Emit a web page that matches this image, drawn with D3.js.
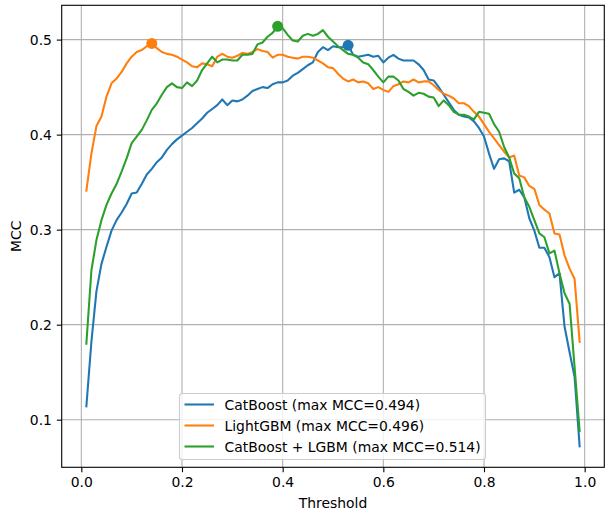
<!DOCTYPE html>
<html>
<head>
<meta charset="utf-8">
<script src="https://cdn.jsdelivr.net/npm/d3@7"></script>
<style>
  body { margin: 0; background: #fff; }
  svg { display: block; font-family: "DejaVu Sans", sans-serif; }
</style>
</head>
<body>
<div id="chart"></div>
<script>
// thresholds 0.01 .. 0.99
const thresholds = d3.range(1, 100).map(i => i / 100);

const catboost = [
  0.114, 0.182, 0.235, 0.264, 0.282, 0.299, 0.310, 0.318, 0.327, 0.338,
  0.339, 0.348, 0.358, 0.364, 0.371, 0.376, 0.384, 0.390, 0.395, 0.399,
  0.403, 0.407, 0.412, 0.417, 0.423, 0.427, 0.431, 0.437, 0.431, 0.436,
  0.435, 0.437, 0.441, 0.446, 0.448, 0.450, 0.449, 0.453, 0.455, 0.455,
  0.457, 0.462, 0.465, 0.469, 0.473, 0.476, 0.487, 0.492, 0.489, 0.493,
  0.492, 0.492, 0.494, 0.484, 0.482, 0.483, 0.484, 0.482, 0.483, 0.476,
  0.481, 0.484, 0.480, 0.478, 0.478, 0.478, 0.474, 0.468, 0.458, 0.457,
  0.450, 0.442, 0.434, 0.426, 0.421, 0.419, 0.418, 0.414, 0.407, 0.398,
  0.380, 0.364, 0.374, 0.375, 0.372, 0.339, 0.342, 0.334, 0.312, 0.299,
  0.281, 0.281, 0.271, 0.250, 0.254, 0.198, 0.171, 0.145, 0.072
];

const lightgbm = [
  0.341, 0.380, 0.409, 0.419, 0.440, 0.454, 0.459, 0.466, 0.475, 0.482,
  0.487, 0.489, 0.493, 0.496, 0.491, 0.487, 0.485, 0.484, 0.482, 0.479,
  0.476, 0.472, 0.471, 0.475, 0.474, 0.472, 0.482, 0.485, 0.482, 0.481,
  0.483, 0.486, 0.485, 0.487, 0.490, 0.488, 0.487, 0.481, 0.484, 0.484,
  0.482, 0.481, 0.480, 0.482, 0.482, 0.481, 0.478, 0.475, 0.471, 0.470,
  0.464, 0.459, 0.456, 0.458, 0.455, 0.456, 0.454, 0.448, 0.450, 0.447,
  0.445, 0.451, 0.453, 0.456, 0.455, 0.458, 0.455, 0.456, 0.456, 0.452,
  0.447, 0.443, 0.441, 0.438, 0.433, 0.433, 0.430, 0.424, 0.419, 0.411,
  0.403, 0.396, 0.389, 0.382, 0.376, 0.378, 0.357, 0.355, 0.346, 0.343,
  0.326, 0.321, 0.317, 0.296, 0.295, 0.273, 0.259, 0.248, 0.182
];

const ensemble = [
  0.180, 0.257, 0.289, 0.310, 0.326, 0.338, 0.348, 0.361, 0.375, 0.391,
  0.398, 0.405, 0.415, 0.426, 0.433, 0.442, 0.450, 0.454, 0.450, 0.449,
  0.455, 0.451, 0.457, 0.468, 0.475, 0.482, 0.476, 0.479, 0.479, 0.478,
  0.478, 0.484, 0.484, 0.485, 0.495, 0.497, 0.503, 0.507, 0.514, 0.512,
  0.505, 0.499, 0.498, 0.504, 0.506, 0.504, 0.506, 0.510, 0.503, 0.498,
  0.493, 0.489, 0.485, 0.484, 0.481, 0.476, 0.474, 0.468, 0.461, 0.455,
  0.461, 0.461, 0.457, 0.448, 0.445, 0.441, 0.444, 0.443, 0.440, 0.439,
  0.430, 0.436, 0.431, 0.424, 0.421, 0.421, 0.419, 0.416, 0.424, 0.423,
  0.422, 0.411, 0.403, 0.387, 0.376, 0.359, 0.354, 0.334, 0.324, 0.310,
  0.296, 0.292, 0.275, 0.278, 0.254, 0.233, 0.222, 0.155, 0.088
];

const seriesNames = ["CatBoost", "LightGBM", "CatBoost + LGBM"];
const seriesColors = ["#1f77b4", "#ff7f0e", "#2ca02c"];
const xTicks = [0.0, 0.2, 0.4, 0.6, 0.8, 1.0];
const yTicks = [0.1, 0.2, 0.3, 0.4, 0.5];

const series = [catboost, lightgbm, ensemble].map((vals, i) => {
  const pts = vals.map((v, j) => ({ t: thresholds[j], v: v }));
  const best = pts[d3.maxIndex(pts, d => d.v)];
  return { name: seriesNames[i], color: seriesColors[i], pts: pts, best: best };
});

const width = 613, height = 520;
const margin = { top: 5.3, right: 8.7, bottom: 52.7, left: 61.7 };
const fs = 13.9;

const svg = d3.select("#chart").append("svg")
  .attr("width", width)
  .attr("height", height);

svg.append("rect").attr("width", width).attr("height", height).attr("fill", "#fff");

// matplotlib-like 5% margins
const xr = d3.extent(thresholds), xpad = (xr[1] - xr[0]) * 0.05;
const allV = series.flatMap(s => s.pts.map(p => p.v));
const yr = d3.extent(allV), ypad = (yr[1] - yr[0]) * 0.05;

const x = d3.scaleLinear()
  .domain([xr[0] - xpad, xr[1] + xpad])
  .range([margin.left, width - margin.right]);
const y = d3.scaleLinear()
  .domain([yr[0] - ypad, yr[1] + ypad])
  .range([height - margin.bottom, margin.top]);

// grid
const grid = svg.append("g").attr("stroke", "#b0b0b0").attr("stroke-width", 1.1);
grid.selectAll(".gx").data(xTicks).join("line")
  .attr("x1", d => x(d)).attr("x2", d => x(d))
  .attr("y1", margin.top).attr("y2", height - margin.bottom);
grid.selectAll(".gy").data(yTicks).join("line")
  .attr("y1", d => y(d)).attr("y2", d => y(d))
  .attr("x1", margin.left).attr("x2", width - margin.right);

// lines
const line = d3.line().x(d => x(d.t)).y(d => y(d.v));
const plot = svg.append("g");
series.forEach(s => {
  plot.append("path")
    .datum(s.pts)
    .attr("d", line)
    .attr("fill", "none")
    .attr("stroke", s.color)
    .attr("stroke-width", 2.08)
    .attr("stroke-linejoin", "round")
    .attr("stroke-linecap", "square");
});
series.forEach(s => {
  plot.append("circle")
    .attr("cx", x(s.best.t))
    .attr("cy", y(s.best.v))
    .attr("r", 5.5)
    .attr("fill", s.color);
});

// axes
const xAxis = d3.axisBottom(x).tickValues(xTicks).tickFormat(d3.format(".1f"))
  .tickSize(4.9).tickPadding(4.9);
const yAxis = d3.axisLeft(y).tickValues(yTicks).tickFormat(d3.format(".1f"))
  .tickSize(4.9).tickPadding(4.9);

const gx = svg.append("g")
  .attr("transform", `translate(0,${height - margin.bottom})`)
  .call(xAxis);
const gy = svg.append("g")
  .attr("transform", `translate(${margin.left},0)`)
  .call(yAxis);
[gx, gy].forEach(g => {
  g.select(".domain").remove();
  g.selectAll(".tick line").attr("stroke", "#000").attr("stroke-width", 1.1);
  g.selectAll(".tick text").attr("fill", "#000")
    .style("font-size", fs + "px").style("font-family", "DejaVu Sans");
});

// spines
svg.append("rect")
  .attr("x", margin.left).attr("y", margin.top)
  .attr("width", width - margin.left - margin.right)
  .attr("height", height - margin.top - margin.bottom)
  .attr("fill", "none").attr("stroke", "#000").attr("stroke-width", 1.1);

// axis labels
svg.append("text")
  .attr("x", (margin.left + width - margin.right) / 2)
  .attr("y", 507.8)
  .attr("text-anchor", "middle")
  .style("font-size", fs + "px")
  .text("Threshold");
svg.append("text")
  .attr("transform", `translate(20.5,${(margin.top + height - margin.bottom) / 2}) rotate(-90)`)
  .attr("text-anchor", "middle")
  .style("font-size", fs + "px")
  .text("MCC");

// legend
const lg = svg.append("g").attr("transform", "translate(179.5,393.5)");
lg.append("rect")
  .attr("width", 306).attr("height", 66)
  .attr("rx", 3)
  .attr("fill", "#fff").attr("fill-opacity", 0.8)
  .attr("stroke", "#cccccc").attr("stroke-width", 1.1);
series.forEach((s, i) => {
  const row = lg.append("g").attr("transform", `translate(0,${11 + i * 21})`);
  row.append("line")
    .attr("x1", 5).attr("x2", 34.5)
    .attr("stroke", s.color).attr("stroke-width", 2.08);
  row.append("text")
    .attr("x", 45)
    .attr("y", 5.5)
    .style("font-size", fs + "px")
    .text(`${s.name} (max MCC=${d3.format(".3f")(s.best.v)})`);
});
</script>
</body>
</html>
